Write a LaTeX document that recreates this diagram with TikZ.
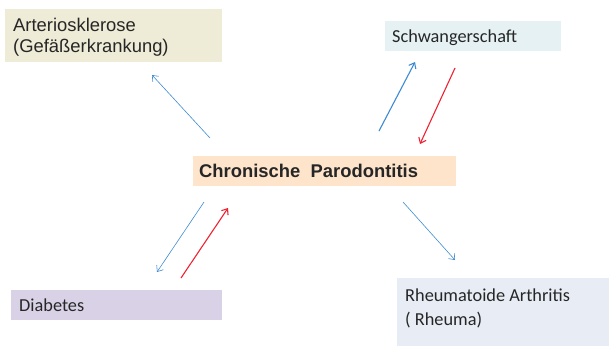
\documentclass[tikz,border=0pt]{standalone}
\usepackage{fontspec}
\setmainfont{Liberation Sans}
\newfontfamily\calib{Carlito}
\usetikzlibrary{arrows.meta,positioning}
\definecolor{artfill}{HTML}{EEEBD6}
\definecolor{schfill}{HTML}{E6F1F4}
\definecolor{parfill}{HTML}{FDE4CB}
\definecolor{diafill}{HTML}{D9D2E7}
\definecolor{rhefill}{HTML}{E7ECF5}
\definecolor{txt}{HTML}{262626}
\definecolor{arblue}{HTML}{3F8BD3}
\definecolor{arred}{HTML}{EE2233}
\begin{document}
\begin{tikzpicture}[x=1pt,y=-1pt,>={Straight Barb[length=5pt,width=8pt]},
 box/.style={anchor=north west,inner xsep=8pt,inner ysep=0pt,align=flush left,text=txt},
 arial/.style={font=\fontsize{18.4}{21}\selectfont},
 cal/.style={font=\calib\fontsize{18.3}{24}\selectfont},
 thinarr/.style={->,arblue,line width=.6pt},
 bluearr/.style={->,arblue,line width=1.1pt},
 redarr/.style={->,arred,line width=1.1pt}]
\useasboundingbox (0,0) rectangle (609,346);
\node[box,arial,fill=artfill,text width=201pt,text height=22pt,text depth=31pt] (art) at (5,9) {Arteriosklerose\\(Gefäßerkrankung)};
\node[box,cal,fill=schfill,inner xsep=7pt,text width=162pt,text height=21pt,text depth=9pt] (sch) at (385,21) {Schwangerschaft};
\node[box,arial,fill=parfill,inner xsep=6pt,text width=251pt,text height=21pt,text depth=9pt] (par) at (193,156) {\textbf{Chronische\ \ Parodontitis}};
\node[box,cal,fill=diafill,text width=195pt,text height=21pt,text depth=9pt] (dia) at (11,290) {Diabetes};
\node[box,cal,fill=rhefill,text width=196pt,text height=23pt,text depth=45pt] (rhe) at (397,278) {Rheumatoide Arthritis\\( Rheuma)};
% arrow ends
\coordinate (art1) at (210,138); \coordinate (art2) at (152,75);
\coordinate (sch1) at (379,131); \coordinate (sch2) at (415,62);
\coordinate (sch3) at (455,68);  \coordinate (sch4) at (420,144);
\coordinate (dia1) at (204,202); \coordinate (dia2) at (157,272);
\coordinate (dia3) at (181,278); \coordinate (dia4) at (228,208);
\coordinate (rhe1) at (403,202); \coordinate (rhe2) at (455,260);
\foreach \a/\b in {art1/art2,dia1/dia2,rhe1/rhe2}{\draw[thinarr] (\a)--(\b);}
\draw[bluearr] (sch1)--(sch2);
\foreach \a/\b in {sch3/sch4,dia3/dia4}{\draw[redarr] (\a)--(\b);}
\end{tikzpicture}
\end{document}
